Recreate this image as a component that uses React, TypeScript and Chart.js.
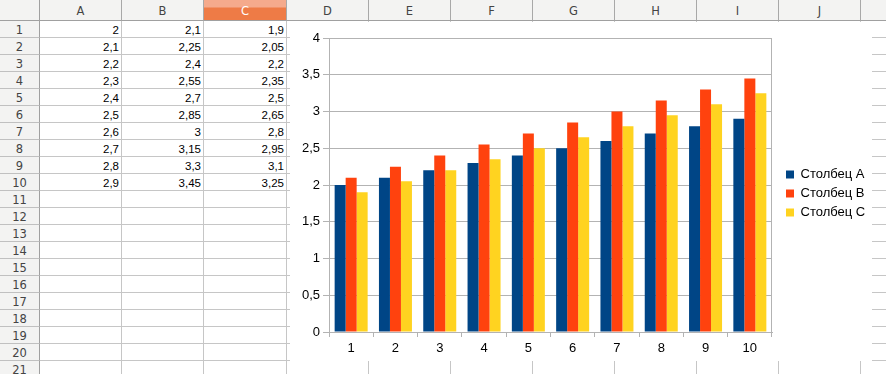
import React, { useEffect, useRef } from "react";
import { Chart, registerables } from "chart.js";

Chart.register(...registerables);

// ---- data ----
const categories = ["1", "2", "3", "4", "5", "6", "7", "8", "9", "10"];
const seriesA = [2, 2.1, 2.2, 2.3, 2.4, 2.5, 2.6, 2.7, 2.8, 2.9];
const seriesB = [2.1, 2.25, 2.4, 2.55, 2.7, 2.85, 3, 3.15, 3.3, 3.45];
const seriesC = [1.9, 2.05, 2.2, 2.35, 2.5, 2.65, 2.8, 2.95, 3.1, 3.25];
const seriesNames = ["Столбец A", "Столбец B", "Столбец C"];
const seriesColors = ["#004586", "#ff420e", "#ffd320"];
const columnLetters = ["A", "B", "C", "D", "E", "F", "G", "H", "I", "J", "K"];
const rowCount = 21;

// ---- layout (not data) ----
const colEdges = [40, 122, 204, 287, 369, 451, 533, 615, 697, 779, 861, 943];
const HEADER_H = 21;
const ROW_H = 17;
const CHART_LEFT = 290;
const CHART_TOP = 22;
const CHART_W = 582;
const CHART_H = 339;

const fmt = (v: number) => String(v).replace(".", ",");
const GRID = "#b3b3b3";
const chartFont = { family: "'Liberation Sans', Arial, sans-serif", size: 13 };

// nudges the legend block upward a little (LibreOffice centres it on the whole object)
const legendNudge = {
  id: "legendNudge",
  afterLayout(chart: any) {
    const l = chart.legend;
    if (l) {
      l.top -= 6;
      l.bottom -= 6;
    }
  },
};

function ChartBox() {
  const ref = useRef<HTMLCanvasElement | null>(null);
  useEffect(() => {
    if (!ref.current) return;
    const chart = new Chart(ref.current, {
      type: "bar",
      data: {
        labels: categories,
        datasets: [seriesA, seriesB, seriesC].map((d, i) => ({
          label: seriesNames[i],
          data: d,
          backgroundColor: seriesColors[i],
          borderWidth: 0,
          yAxisID: "y",
          categoryPercentage: 0.745,
          barPercentage: 1,
        })),
      },
      plugins: [legendNudge],
      options: {
        animation: false,
        responsive: false,
        maintainAspectRatio: false,
        layout: { padding: { top: 16, right: 1, bottom: 0, left: 0 } },
        plugins: {
          legend: {
            position: "right",
            maxWidth: 91,
            labels: {
              boxWidth: 8,
              boxHeight: 8,
              padding: 6,
              color: "#000",
              font: chartFont,
            },
          },
          tooltip: { enabled: false },
        },
        scales: {
          x: {
            offset: true,
            grid: {
              offset: true,
              color: (c: any) => (c.type === "tick" ? "rgba(0,0,0,0)" : GRID),
              tickColor: GRID,
              tickLength: 5,
            },
            border: { color: GRID },
            ticks: { color: "#000", font: chartFont, padding: 4 },
            afterFit: (s: any) => {
              s.height = 29;
            },
          },
          y: {
            min: 0,
            max: 4,
            ticks: {
              stepSize: 0.5,
              color: "#000",
              font: chartFont,
              padding: 3,
              callback: (v: any) => fmt(Number(v)),
            },
            grid: { color: GRID, tickLength: 6 },
            border: { color: GRID },
            afterFit: (s: any) => {
              s.width = 39;
            },
          },
          spacer: {
            axis: "y",
            type: "linear",
            position: "right",
            display: true,
            grid: { display: false, drawTicks: false },
            ticks: { display: false },
            border: { display: false },
            afterFit: (s: any) => {
              s.width = 8;
            },
          },
        },
      } as any,
    });
    return () => chart.destroy();
  }, []);
  return (
    <div
      style={{
        position: "absolute",
        left: CHART_LEFT,
        top: CHART_TOP,
        width: CHART_W,
        height: CHART_H,
        background: "#fff",
      }}
    >
      <canvas
        ref={ref}
        width={CHART_W}
        height={CHART_H}
        style={{ display: "block", width: CHART_W, height: CHART_H }}
      />
    </div>
  );
}

export default function App() {
  const cells: React.ReactNode[] = [];
  const data = [seriesA, seriesB, seriesC];
  for (let r = 0; r < rowCount; r++) {
    for (let c = 0; c < columnLetters.length; c++) {
      const val = c < data.length && r < data[c].length ? fmt(data[c][r]) : "";
      cells.push(
        <div
          key={`c${r}-${c}`}
          style={{
            position: "absolute",
            left: colEdges[c],
            top: HEADER_H + ROW_H * r,
            width: colEdges[c + 1] - colEdges[c],
            height: ROW_H,
            boxSizing: "border-box",
            borderRight: "1px solid #c6c6c6",
            borderBottom: "1px solid #c6c6c6",
            fontFamily: "'Liberation Sans', Arial, sans-serif",
            fontSize: 11.5,
            lineHeight: "18px",
            textAlign: "right",
            paddingRight: 2,
            color: "#000",
            overflow: "hidden",
            whiteSpace: "nowrap",
          }}
        >
          {val}
        </div>
      );
    }
  }
  const headers = columnLetters.map((l, c) => (
    <div
      key={`h${c}`}
      style={{
        position: "absolute",
        left: colEdges[c],
        top: 0,
        width: colEdges[c + 1] - colEdges[c],
        height: HEADER_H,
        boxSizing: "border-box",
        borderRight: "1px solid #a8a8a8",
        borderBottom: "1px solid #a0a0a0",
        background:
          l === "C"
            ? "linear-gradient(#f5aa8c 0px, #f5aa8c 7px, #ee7b46 8px, #ee7b46 100%)"
            : "#f3f3f2",
        color: l === "C" ? "#fff" : "#444",
        fontFamily: "'DejaVu Sans', sans-serif",
        fontSize: 11.5,
        lineHeight: "23px",
        textAlign: "center",
      }}
    >
      {l}
    </div>
  ));
  const rowHeads: React.ReactNode[] = [];
  for (let r = 0; r < rowCount; r++) {
    rowHeads.push(
      <div
        key={`r${r}`}
        style={{
          position: "absolute",
          left: 0,
          top: HEADER_H + ROW_H * r,
          width: 40,
          height: ROW_H,
          boxSizing: "border-box",
          borderRight: "1px solid #a0a0a0",
          borderBottom: "1px solid #c0c0c0",
          background: "#f3f3f2",
          color: "#444",
          fontFamily: "'DejaVu Sans', sans-serif",
          fontSize: 11.5,
          lineHeight: "19px",
          textAlign: "center",
        }}
      >
        {r + 1}
      </div>
    );
  }
  return (
    <div
      style={{
        position: "fixed",
        left: 0,
        top: 0,
        width: 886,
        height: 374,
        overflow: "hidden",
        background: "#fff",
      }}
    >
      {cells}
      {headers}
      {rowHeads}
      <div
        style={{
          position: "absolute",
          left: 0,
          top: 0,
          width: 40,
          height: HEADER_H,
          boxSizing: "border-box",
          borderRight: "1px solid #a0a0a0",
          borderBottom: "1px solid #a0a0a0",
          background: "#f3f3f2",
        }}
      />
      <ChartBox />
    </div>
  );
}
